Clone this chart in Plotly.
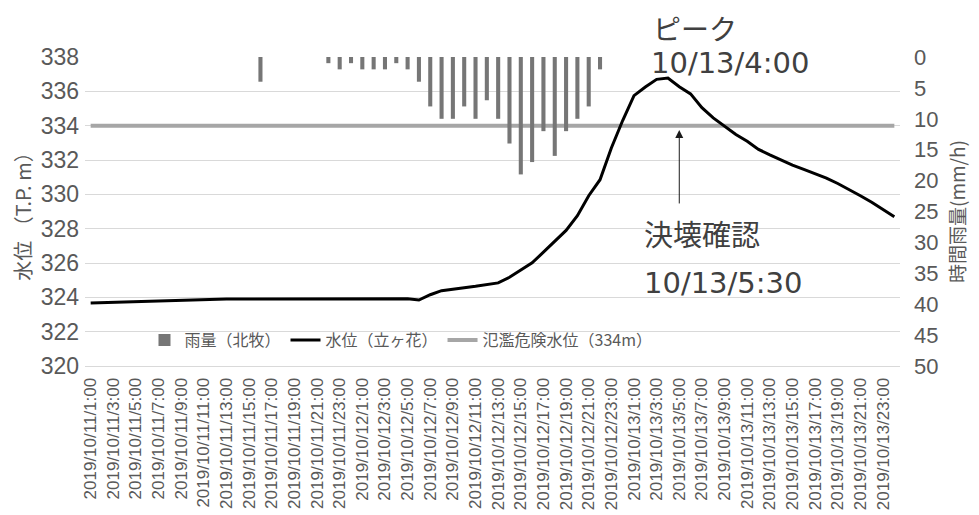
import plotly.graph_objects as go

# ---- data (hourly, 2019/10/11 1:00 -> 2019/10/14 0:00) ----
times = []
for k in range(1, 73):
    day = 11 + k // 24
    hr = k % 24
    times.append(f"2019/10/{day}/{hr}:00")

rain_mm = [0, 0, 0, 0, 0, 0, 0, 0, 0, 0, 0, 0, 0, 0, 0, 4, 0, 0, 0, 0, 0, 1, 2, 1,
           2, 2, 2, 1, 2, 4, 8, 10, 10, 8, 10, 7, 10, 14, 19, 17, 12, 16, 12, 10,
           8, 2, 0, 0, 0, 0, 0, 0, 0, 0, 0, 0, 0, 0, 0, 0, 0, 0, 0, 0, 0, 0, 0, 0,
           0, 0, 0, 0]

water_level = [323.67, 323.69, 323.71, 323.74, 323.77, 323.80, 323.82, 323.84,
               323.86, 323.87, 323.88, 323.89, 323.90, 323.90, 323.90, 323.90,
               323.90, 323.90, 323.90, 323.91, 323.92, 323.93, 323.94, 323.94,
               323.94, 323.94, 323.94, 323.94, 323.92, 323.84, 324.15, 324.39,
               324.49, 324.56, 324.64, 324.74, 324.84, 325.17, 325.58, 326.01,
               326.63, 327.28, 327.90, 328.75, 329.92, 330.85, 332.70, 334.30,
               335.75, 336.25, 336.70, 336.78, 336.27, 335.85, 335.05, 334.45,
               333.95, 333.49, 333.09, 332.62, 332.30, 332.00, 331.70, 331.45,
               331.20, 330.95, 330.63, 330.29, 329.92, 329.54, 329.12, 328.69]

danger_level_value = 334
danger_level = [danger_level_value] * len(times)

left_ticks = [320, 322, 324, 326, 328, 330, 332, 334, 336, 338]
right_ticks = [0, 5, 10, 15, 20, 25, 30, 35, 40, 45, 50]
x_tickvals = times[::2]

GRAY_TXT = "#595959"
JP = "Noto Sans CJK JP"
LAT = "Liberation Sans"

fig = go.Figure()

fig.add_trace(go.Scatter(
    x=times, y=danger_level, mode="lines", name="氾濫危険水位（334m）",
    line=dict(color="#a6a6a6", width=4), legendrank=3))

fig.add_trace(go.Scatter(
    x=times, y=water_level, mode="lines", name="水位（立ヶ花）",
    line=dict(color="#000000", width=3), legendrank=2))

fig.add_trace(go.Bar(
    x=times, y=rain_mm, name="雨量（北牧）", yaxis="y2",
    marker=dict(color="#767676", line=dict(width=0)), legendrank=1))

# page body has an 8px margin, so margins are offset by 8px
fig.update_layout(
    width=979, height=515,
    margin=dict(l=77, r=87, t=49, b=157, autoexpand=False),
    paper_bgcolor="white", plot_bgcolor="white",
    bargap=0.64,
    showlegend=True,
    legend=dict(orientation="h", x=0.073, y=0.084, xanchor="left", yanchor="middle",
                font=dict(family=JP, size=16, color=GRAY_TXT),
                bgcolor="rgba(0,0,0,0)", traceorder="normal"),
    xaxis=dict(type="category", categoryorder="array", categoryarray=times,
               tickmode="array", tickvals=x_tickvals, ticktext=x_tickvals,
               tickangle=-90, tickfont=dict(family=LAT, size=17, color=GRAY_TXT),
               ticklabelstandoff=4,
               showgrid=False, showline=True, linecolor="#d9d9d9", linewidth=1,
               ticks="", range=[-0.5, 71.5], automargin=False),
    yaxis=dict(range=[320, 338], tickvals=left_ticks, automargin=False,
               tickfont=dict(family=LAT, size=23, color=GRAY_TXT),
               ticklabelstandoff=5,
               showgrid=True, gridcolor="#d9d9d9", gridwidth=1, zeroline=False,
               title=dict(text="水位 （T.P. m）", font=dict(family=JP, size=20, color=GRAY_TXT))),
    yaxis2=dict(range=[50, 0], overlaying="y", side="right", tickvals=right_ticks,
                automargin=False,
                tickfont=dict(family=LAT, size=22, color=GRAY_TXT),
                ticklabelstandoff=13,
                showgrid=False, zeroline=False,
                title=dict(text="時間雨量(mm/h)", standoff=14,
                           font=dict(family=JP, size=19, color=GRAY_TXT))),
)

jp_font = dict(family=JP, size=29, color="#404040")
num_font = dict(family="DejaVu Sans", size=29, color="#404040")
fig.add_annotation(text="ピーク", xref="paper", yref="paper", x=0.694, y=1.094,
                   xanchor="left", yanchor="middle", showarrow=False,
                   font=dict(family=JP, size=28, color="#404040"))
fig.add_annotation(text="10/13/4:00", xref="paper", yref="paper", x=0.692, y=0.982,
                   xanchor="left", yanchor="middle", showarrow=False, font=num_font)
fig.add_annotation(text="決壊確認", xref="paper", yref="paper", x=0.684, y=0.431,
                   xanchor="left", yanchor="middle", showarrow=False, font=jp_font)
fig.add_annotation(text="10/13/5:30", xref="paper", yref="paper", x=0.684, y=0.269,
                   xanchor="left", yanchor="middle", showarrow=False, font=num_font)
fig.add_annotation(text="", x=times[52], y=333.75, xref="x", yref="y",
                   showarrow=True, ax=0, ay=75, arrowhead=2, arrowsize=1.6,
                   arrowwidth=1, arrowcolor="#1a1a1a")

fig.write_html("out.html")
